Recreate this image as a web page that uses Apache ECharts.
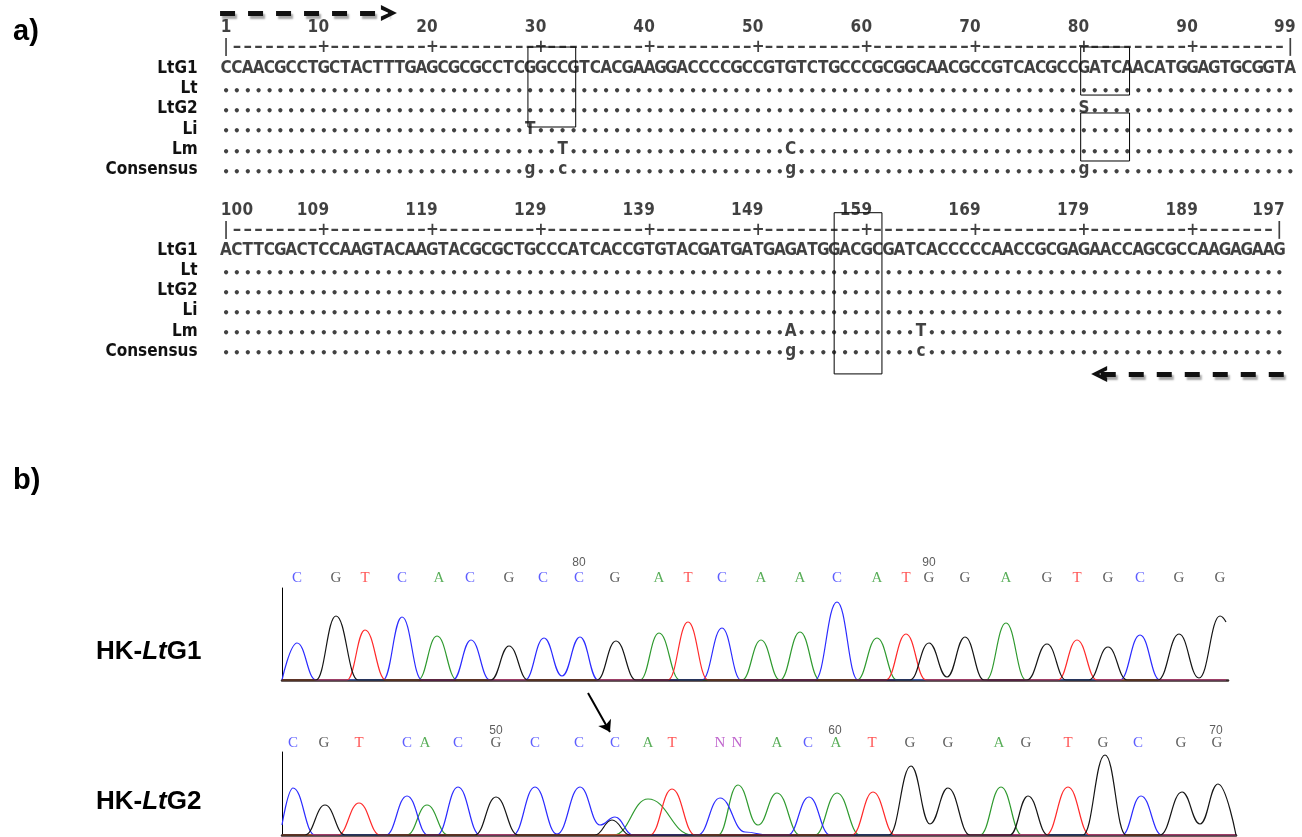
<!DOCTYPE html>
<html>
<head>
<meta charset="utf-8">
<script src="https://cdn.jsdelivr.net/npm/echarts@6/dist/echarts.min.js"></script>
<style>
html, body { margin: 0; padding: 0; background: #fff; }
#main { width: 1302px; height: 837px; }
</style>
</head>
<body>
<div id="main"></div>
<script>
// ---- a) alignment ----
var seq1 = 'CCAACGCCTGCTACTTTGAGCGCGCCTCGGCCGTCACGAAGGACCCCGCCGTGTCTGCCCGCGGCAACGCCGTCACGCCGATCAACATGGAGTGCGGTA';
var seq2 = 'ACTTCGACTCCAAGTACAAGTACGCGCTGCCCATCACCGTGTACGATGATGAGATGGACGCGATCACCCCCAACCGCGAGAACCAGCGCCAAGAGAAG';
var ticks1 = [1, 10, 20, 30, 40, 50, 60, 70, 80, 90, 99];
var ticks2 = [100, 109, 119, 129, 139, 149, 159, 169, 179, 189, 197];
var rowNames = ['LtG1', 'Lt', 'LtG2', 'Li', 'Lm', 'Consensus'];
// differences to LtG1, anything not listed is '.'
var varLt = [];
var varLtG2 = [[80, 'S']];
var varLi = [[29, 'T']];
var varLm = [[32, 'T'], [53, 'C'], [152, 'A'], [164, 'T']];
var varCons = [[29, 'g'], [32, 'c'], [53, 'g'], [80, 'g'], [152, 'g'], [164, 'c']];
// boxes: [fromPos, toPos, fromRow, toRow]
var boxes1 = [[28.8, 33.2, 0.96, 4.89], [79.7, 84.2, 0.96, 3.32], [79.7, 84.2, 4.2, 6.56]];
var boxes2 = [[156.0, 160.4, 0.11, 8.13]];
// primer arrows: [fromPos, toPos, row]
var primer1 = [0.45, 16.0, -0.71];
var primer2 = [197.4, 180.4, 8.13];

// ---- b) chromatograms (x in scan units) ----
var g1Calls = 'CGTCACGCCGATCAACATGGAGTGCGG'.split('');
var g1CallPos = [15, 54, 83, 120, 157, 188, 227, 261, 297, 333, 377, 406, 440, 479, 518, 555, 595, 624, 647, 683, 724, 765, 795, 826, 858, 897, 938];
var g1Num = ['80', '90'];
var g1NumPos = [297, 647];
var g1A = [[0,0],[136,0],[155,44],[175,0],[358,0],[377,47],[398,0],[460,0],[479,40],[498,0],[518,48],[538,0],[575,0],[595,42],[615,0],[704,0],[724,57],[744,0],[944,0]];
var g1C = [[0,0],[15,37],[34,0],[101,0],[120,63],[140,0],[171,0],[189,40],[208,0],[243,0],[262,42],[280,4],[298,43],[316,0],[420,0],[440,52],[459,0],[533,0],[555,78],[576,0],[838,0],[858,45],[878,0],[944,0]];
var g1G = [[0,0],[34,0],[54,64],[76,0],[209,0],[227,34],[246,0],[315,0],[334,39],[354,0],[628,0],[647,37],[665,3],[683,43],[702,0],[745,0],[765,36],[784,0],[807,0],[826,33],[845,0],[876,0],[897,46],[917,2],[938,64],[944,58]];
var g1T = [[0,0],[65,0],[83,50],[104,0],[386,0],[406,58],[426,0],[604,0],[624,46],[644,0],[776,0],[795,40],[815,0],[944,0]];

var g2Calls = 'CGTCACGCCCATNNACATGGAGTGCGG'.split('');
var g2CallPos = [11, 42, 77, 125, 143, 176, 214, 253, 297, 333, 366, 390, 438, 455, 495, 526, 554, 590, 628, 666, 717, 744, 786, 821, 856, 899, 935];
var g2Num = ['50', '60', '70'];
var g2NumPos = [214, 553, 934];
var g2A = [[0,0],[125,0],[145,30],[166,0],[332,0],[366,36],[410,0],[436,0],[456,50],[476,10],[495,42],[518,0],[533,0],[555,42],[578,0],[698,0],[719,48],[740,0],[954,0]];
var g2C = [[0,10],[11,47],[33,0],[104,0],[125,39],[146,0],[155,0],[176,48],[198,0],[231,0],[253,48],[275,1],[298,48],[318,10],[333,18],[351,0],[416,0],[438,37],[463,3],[486,0],[506,0],[527,38],[548,0],[840,0],[859,39],[880,0],[954,0]];
var g2G = [[0,0],[23,0],[43,30],[63,0],[193,0],[214,38],[236,0],[313,0],[330,15],[348,0],[607,0],[629,69],[648,11],[666,47],[688,0],[728,0],[746,39],[766,0],[801,0],[823,80],[844,0],[878,0],[900,43],[918,11],[936,51],[954,0]];
var g2T = [[0,0],[56,0],[77,32],[98,0],[368,0],[390,46],[413,0],[570,0],[591,43],[613,0],[764,0],[786,48],[808,0],[954,0]];
// arrow pointing at the mixed C peak
var g2Arrow = [[306, 142], [328, 103]];

var traceColor = { A: '#2f9a2f', C: '#2b2bff', G: '#151515', T: '#ff2a2a' };
var callColor = { A: '#2f9a2f', C: '#3535ff', G: '#333333', T: '#ff2a2a', N: '#b040c0' };

var alnFont = "'DejaVu Sans Condensed', 'DejaVu Sans Mono', monospace";

function blockChars(seq, start, ticks, vars) {
    var out = [];
    var end = start + seq.length - 1;
    // number row
    ticks.forEach(function (t, i) {
        var s = String(t);
        var first = i === 0 ? t : t - s.length + 1;
        for (var k = 0; k < s.length; k++) out.push([first + k, 0, s[k]]);
    });
    // ruler
    for (var p = start; p <= end; p++) {
        var c = '-';
        if (p === start || p === end) c = '|';
        else if (ticks.indexOf(p) >= 0) c = '+';
        out.push([p, 1, c]);
    }
    for (var q = start; q <= end; q++) out.push([q, 2, seq[q - start]]);
    vars.forEach(function (v, r) {
        var m = {};
        v.forEach(function (d) { m[d[0]] = d[1]; });
        for (var p2 = start; p2 <= end; p2++) out.push([p2, r + 3, m[p2] || '.']);
    });
    return out;
}

var allVars = [varLt, varLtG2, varLi, varLm, varCons];

function charSeries(idx, data) {
    return {
        type: 'scatter', xAxisIndex: idx, yAxisIndex: idx,
        data: data, symbolSize: 1, clip: false, silent: true,
        itemStyle: { color: 'rgba(0,0,0,0)' },
        label: {
            show: true, position: 'inside',
            formatter: function (p) {
                var ch = p.data[2];
                if (ch === '.') return '{d|\u2022}';
                if (ch === '-') return '{r|\u2013}';
                return ch;
            },
            fontFamily: alnFont, fontWeight: 'bold', fontSize: 17, color: '#111',
            rich: {
                d: { fontFamily: "'DejaVu Sans'", fontSize: 12, color: '#111', padding: [6, 0, 0, 0] },
                r: { fontFamily: "'DejaVu Sans'", fontWeight: 'bold', fontSize: 17, color: '#111' }
            }
        }
    };
}

function boxSeries(idx, boxes) {
    return {
        type: 'lines', coordinateSystem: 'cartesian2d', xAxisIndex: idx, yAxisIndex: idx,
        polyline: true, clip: false, silent: true,
        lineStyle: { color: '#000', width: 1, opacity: 1 },
        data: boxes.map(function (b) {
            return { coords: [[b[0], b[2]], [b[1], b[2]], [b[1], b[3]], [b[0], b[3]], [b[0], b[2]]] };
        })
    };
}

var chevron = 'path://M0,12 L9,0 L18,12 L13,12 L9,6 L5,12 Z';

function primerSeries(idx, pr) {
    return {
        type: 'lines', coordinateSystem: 'cartesian2d', xAxisIndex: idx, yAxisIndex: idx,
        clip: false, silent: true,
        symbol: ['none', chevron], symbolSize: [22, 16],
        lineStyle: {
            color: '#111', width: 5, type: [15, 13], opacity: 1,
            shadowColor: 'rgba(0,0,0,0.35)', shadowBlur: 2, shadowOffsetX: 2, shadowOffsetY: 3
        },
        itemStyle: { color: '#111', shadowColor: 'rgba(0,0,0,0.35)', shadowBlur: 2, shadowOffsetX: 2, shadowOffsetY: 3 },
        data: [{ coords: [[pr[0], pr[2]], [pr[1], pr[2]]] }]
    };
}

function traceSeries(idx, data, base) {
    return {
        type: 'line', xAxisIndex: idx, yAxisIndex: idx, data: data,
        showSymbol: false, smooth: 0.45, smoothMonotone: 'x', silent: true,
        lineStyle: { color: traceColor[base], width: 1.2 }
    };
}

function callSeries(idx, calls, pos, y) {
    return {
        type: 'scatter', xAxisIndex: idx, yAxisIndex: idx, clip: false, silent: true,
        symbolSize: 1, itemStyle: { color: 'rgba(0,0,0,0)' },
        data: calls.map(function (c, i) {
            return { value: [pos[i], y, c], label: { color: callColor[c] } };
        }),
        label: {
            show: true, position: 'inside',
            formatter: function (p) { return p.data.value[2]; },
            fontFamily: "'Liberation Serif', serif", fontSize: 15
        }
    };
}

function numSeries(idx, nums, pos, y) {
    return {
        type: 'scatter', xAxisIndex: idx, yAxisIndex: idx, clip: false, silent: true,
        symbolSize: 1, itemStyle: { color: 'rgba(0,0,0,0)' },
        data: nums.map(function (n, i) { return [pos[i], y, n]; }),
        label: {
            show: true, position: 'inside',
            formatter: function (p) { return p.data[2]; },
            fontFamily: "'Liberation Sans', sans-serif", fontSize: 12, color: '#333'
        }
    };
}

function rowLabel(v) {
    return (v >= 2 && v <= 7) ? rowNames[v - 2] : '';
}

var alignY = {
    type: 'value', inverse: true, interval: 1,
    axisLine: { show: false }, axisTick: { show: false }, splitLine: { show: false },
    axisLabel: { formatter: rowLabel, margin: 23, fontFamily: alnFont, fontWeight: 'bold', fontSize: 17, color: '#111' }
};

var chromX = {
    type: 'value', min: 0,
    axisLine: { show: true, lineStyle: { color: '#3a2a2a', width: 2.5 } },
    axisTick: { show: false }, axisLabel: { show: false }, splitLine: { show: false }
};
var chromY = {
    type: 'value', min: 0,
    axisLine: { show: true, lineStyle: { color: '#000', width: 1 } },
    axisTick: { show: false }, axisLabel: { show: false }, splitLine: { show: false }
};

var hkRich = {
    n: { fontFamily: "'Liberation Sans', Arial", fontWeight: 'bold', fontSize: 26, color: '#000' },
    i: { fontFamily: "'Liberation Sans', Arial", fontWeight: 'bold', fontStyle: 'italic', fontSize: 26, color: '#000' }
};

var chart = echarts.init(document.getElementById('main'));
var option = {
    animation: false,
    backgroundColor: '#fff',
    title: [
        { text: 'a)', left: 8, top: 12, textStyle: { fontFamily: "'Liberation Sans', Arial", fontWeight: 'bold', fontSize: 29, color: '#000' } },
        { text: 'b)', left: 8, top: 461, textStyle: { fontFamily: "'Liberation Sans', Arial", fontWeight: 'bold', fontSize: 29, color: '#000' } },
        { text: '{n|HK-}{i|Lt}{n|G1}', left: 91, top: 634, textStyle: { rich: hkRich } },
        { text: '{n|HK-}{i|Lt}{n|G2}', left: 91, top: 784, textStyle: { rich: hkRich } }
    ],
    grid: [
        { left: 220.6, top: 7.15, width: 1075.1, height: 183.15 },
        { left: 220.6, top: 190.4, width: 1075.1, height: 201 },
        { left: 282, top: 588, width: 946, height: 92 },
        { left: 282, top: 752, width: 954, height: 83 }
    ],
    xAxis: [
        { gridIndex: 0, type: 'value', min: 0.5, max: 99.5, show: false },
        { gridIndex: 1, type: 'value', min: 99.5, max: 198.5, show: false },
        Object.assign({ gridIndex: 2, max: 946 }, chromX),
        Object.assign({ gridIndex: 3, max: 954 }, chromX)
    ],
    yAxis: [
        Object.assign({ gridIndex: 0, min: -1, max: 8 }, alignY),
        Object.assign({ gridIndex: 1, min: -1, max: 9 }, alignY),
        Object.assign({ gridIndex: 2, max: 92 }, chromY),
        Object.assign({ gridIndex: 3, max: 83 }, chromY)
    ],
    series: [
        charSeries(0, blockChars(seq1, 1, ticks1, allVars)),
        charSeries(1, blockChars(seq2, 100, ticks2, allVars)),
        boxSeries(0, boxes1),
        boxSeries(1, boxes2),
        primerSeries(0, primer1),
        primerSeries(1, primer2),
        traceSeries(2, g1A, 'A'),
        traceSeries(2, g1C, 'C'),
        traceSeries(2, g1T, 'T'),
        traceSeries(2, g1G, 'G'),
        callSeries(2, g1Calls, g1CallPos, 102),
        numSeries(2, g1Num, g1NumPos, 117),
        traceSeries(3, g2A, 'A'),
        traceSeries(3, g2C, 'C'),
        traceSeries(3, g2T, 'T'),
        traceSeries(3, g2G, 'G'),
        callSeries(3, g2Calls, g2CallPos, 92),
        numSeries(3, g2Num, g2NumPos, 104),
        {
            type: 'lines', coordinateSystem: 'cartesian2d', xAxisIndex: 3, yAxisIndex: 3,
            clip: false, silent: true,
            symbol: ['none', 'arrow'], symbolSize: [8, 11],
            lineStyle: { color: '#000', width: 2, opacity: 1 },
            itemStyle: { color: '#000' },
            data: [{ coords: g2Arrow }]
        }
    ]
};
chart.setOption(option);
</script>
</body>
</html>
